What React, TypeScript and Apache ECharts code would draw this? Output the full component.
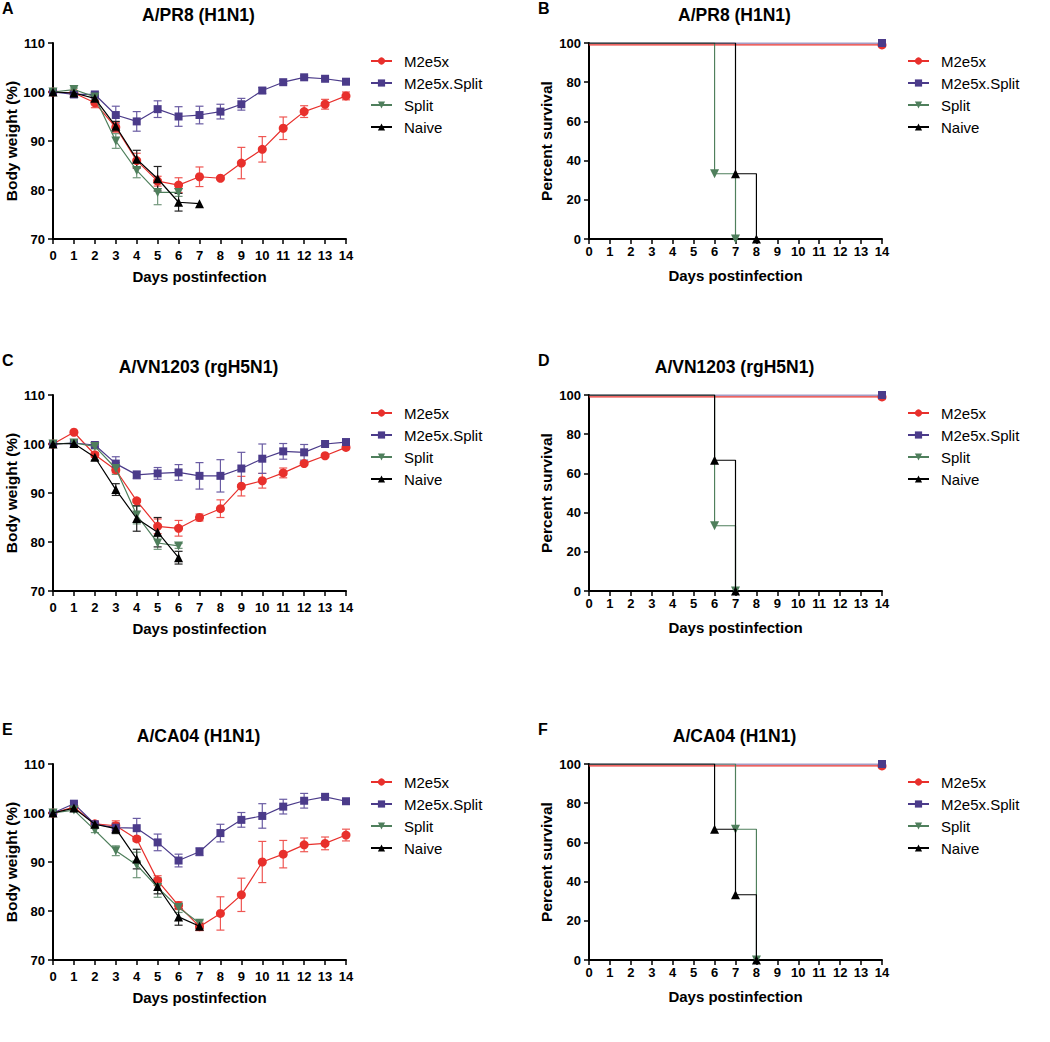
import React, { useEffect, useRef } from "react";
import * as echarts from "echarts";

// ---------- data ----------
const DAYS = [0, 1, 2, 3, 4, 5, 6, 7, 8, 9, 10, 11, 12, 13, 14];
const GROUPS = ["M2e5x", "M2e5x.Split", "Split", "Naive"];
const TITLES = ["A/PR8 (H1N1)", "A/VN1203 (rgH5N1)", "A/CA04 (H1N1)"];
const LETTERS = [["A", "B"], ["C", "D"], ["E", "F"]];
const WEIGHT_TICKS = { min: 70, max: 110, step: 10 };
const SURV_TICKS = { min: 0, max: 100, step: 20 };

// Panel A (body weight, A/PR8)
const A_M2E5X = [100, 99.8, 97.8, 92.8, 86.0, 81.8, 81.0, 82.7, 82.4, 85.5, 88.3, 92.6, 96.0, 97.5, 99.2];
const A_M2E5X_ERR = [0, 0.5, 1.0, 1.0, 1.5, 1.0, 1.5, 2.0, 0.3, 3.2, 2.6, 2.3, 1.2, 1.0, 0.8];
const A_COMBO = [100, 99.5, 99.5, 95.3, 94.0, 96.5, 95.0, 95.3, 96.0, 97.5, 100.3, 102.0, 103.0, 102.7, 102.1];
const A_COMBO_ERR = [0, 0.3, 0.5, 1.8, 2.0, 1.7, 2.0, 1.8, 1.5, 1.2, 0.6, 0.3, 0.3, 0.3, 0.3];
const A_SPLIT = [100, 100.5, 99.0, 90.0, 84.0, 79.5, 79.5];
const A_SPLIT_ERR = [0, 0.3, 0.5, 1.5, 1.5, 2.5, 0.8];
const A_NAIVE = [100, 99.8, 98.7, 93.0, 86.3, 82.3, 77.5, 77.2];
const A_NAIVE_ERR = [0, 0.3, 0.5, 1.0, 1.8, 2.5, 1.8, 0];

// Panel C (body weight, A/VN1203)
const C_M2E5X = [100, 102.4, 97.8, 94.7, 88.4, 83.2, 82.8, 85.0, 86.8, 91.4, 92.5, 94.1, 96.0, 97.6, 99.3];
const C_M2E5X_ERR = [0, 0.3, 0.5, 0.6, 0.3, 1.5, 1.6, 0.7, 1.8, 2.0, 1.5, 1.0, 0.3, 0.3, 0.3];
const C_COMBO = [100, 100.2, 99.8, 96.0, 93.7, 94.0, 94.2, 93.5, 93.5, 95.0, 97.0, 98.5, 98.3, 100.0, 100.4];
const C_COMBO_ERR = [0, 0.2, 0.4, 1.4, 0.8, 1.2, 1.6, 2.7, 3.3, 3.3, 3.0, 1.6, 1.6, 0.2, 0.3];
const C_SPLIT = [100, 100.2, 99.5, 95.0, 85.5, 79.8, 79.2];
const C_SPLIT_ERR = [0, 0.2, 0.5, 1.2, 1.8, 1.3, 0.5];
const C_NAIVE = [100, 100.1, 97.3, 90.7, 84.8, 82.0, 76.8];
const C_NAIVE_ERR = [0, 0.2, 0.6, 1.2, 2.6, 3.0, 1.3];

// Panel E (body weight, A/CA04)
const E_M2E5X = [100, 101.2, 97.8, 97.4, 94.7, 86.2, 81.1, 76.8, 79.5, 83.3, 90.0, 91.6, 93.5, 93.8, 95.5];
const E_M2E5X_ERR = [0, 0.3, 0.5, 1.0, 0.5, 1.0, 0.8, 0.8, 3.4, 3.4, 4.2, 2.8, 1.4, 1.3, 1.2];
const E_COMBO = [100, 101.9, 97.7, 97.0, 96.9, 94.0, 90.3, 92.1, 95.9, 98.6, 99.4, 101.3, 102.5, 103.3, 102.4];
const E_COMBO_ERR = [0, 0.3, 0.5, 1.0, 2.0, 1.7, 1.3, 0.8, 1.8, 1.5, 2.5, 1.5, 1.5, 0.3, 0.3];
const E_SPLIT = [100, 100.6, 96.5, 92.3, 89.4, 84.8, 80.7, 77.5];
const E_SPLIT_ERR = [0, 0.3, 0.5, 1.0, 2.6, 2.0, 1.0, 0.5];
const E_NAIVE = [100, 101.0, 97.7, 96.8, 90.6, 85.0, 78.8, 76.9];
const E_NAIVE_ERR = [0, 0.3, 0.5, 1.0, 2.0, 1.5, 1.7, 0.5];

// Survival panels (event days and percent surviving)
const B_M2E5X_DAYS = [0, 14];
const B_M2E5X_SURV = [99, 99];
const B_COMBO_DAYS = [0, 14];
const B_COMBO_SURV = [100, 100];
const B_SPLIT_DAYS = [0, 6, 7];
const B_SPLIT_SURV = [100, 33.3, 0];
const B_NAIVE_DAYS = [0, 7, 8];
const B_NAIVE_SURV = [100, 33.3, 0];

const D_M2E5X_DAYS = [0, 14];
const D_M2E5X_SURV = [99, 99];
const D_COMBO_DAYS = [0, 14];
const D_COMBO_SURV = [100, 100];
const D_SPLIT_DAYS = [0, 6, 7];
const D_SPLIT_SURV = [100, 33.3, 0];
const D_NAIVE_DAYS = [0, 6, 7];
const D_NAIVE_SURV = [100, 66.7, 0];

const F_M2E5X_DAYS = [0, 14];
const F_M2E5X_SURV = [99, 99];
const F_COMBO_DAYS = [0, 14];
const F_COMBO_SURV = [100, 100];
const F_SPLIT_DAYS = [0, 7, 8];
const F_SPLIT_SURV = [100, 66.7, 0];
const F_NAIVE_DAYS = [0, 6, 7, 8];
const F_NAIVE_SURV = [100, 66.7, 33.3, 0];

// ---------- styles ----------
const FONT = "'Liberation Sans', Arial, Helvetica, sans-serif";
const STYLE = [
  { color: "#e8302c", err: "#ef5753", symbol: "circle", size: 9, rotate: 0 },
  { color: "#4b3b8a", err: "#6a5ca3", symbol: "rect", size: 8, rotate: 0 },
  { color: "#4f7f5c", err: "#73987d", symbol: "triangle", size: 9, rotate: 180 },
  { color: "#000000", err: "#222222", symbol: "triangle", size: 9, rotate: 0 },
];
const ROW_TOPS = [43, 395, 764];
const COL_LEFTS = [53, 589];
const PLOT_W = 293;
const PLOT_H = 196;

function errRender(color: string) {
  return (params: any, api: any) => {
    const x = api.value(0);
    const y = api.value(1);
    const e = api.value(2);
    const hi = api.coord([x, y + e]);
    const lo = api.coord([x, y - e]);
    const w = 4;
    const style = { stroke: color, lineWidth: 1.2, fill: null };
    return {
      type: "group",
      children: [
        { type: "line", shape: { x1: hi[0], y1: hi[1], x2: lo[0], y2: lo[1] }, style },
        { type: "line", shape: { x1: hi[0] - w, y1: hi[1], x2: hi[0] + w, y2: hi[1] }, style },
        { type: "line", shape: { x1: lo[0] - w, y1: lo[1], x2: lo[0] + w, y2: lo[1] }, style },
      ],
    };
  };
}

function weightSeries(gi: number, sets: number[][][]) {
  const lines: any[] = [];
  const errs: any[] = [];
  sets.forEach(([vals, es], k) => {
    const st = STYLE[k];
    lines.push({
      type: "line",
      name: GROUPS[k],
      xAxisIndex: gi,
      yAxisIndex: gi,
      data: vals.map((v, i) => [DAYS[i], v]),
      symbol: st.symbol,
      symbolSize: st.size,
      symbolRotate: st.rotate,
      lineStyle: { color: st.color, width: 1.2 },
      itemStyle: { color: st.color },
      z: 3 + k,
    });
    errs.push({
      type: "custom",
      name: GROUPS[k] + " SEM",
      xAxisIndex: gi,
      yAxisIndex: gi,
      coordinateSystem: "cartesian2d",
      data: vals.map((v, i) => [DAYS[i], v, es[i]]).filter((d) => d[2] > 0),
      encode: { x: 0, y: 1 },
      renderItem: errRender(st.err),
      silent: true,
      z: 2,
    });
  });
  return [...errs, ...lines];
}

function survivalSeries(gi: number, sets: number[][][]) {
  return sets.map(([days, surv], k) => {
    const st = STYLE[k];
    return {
      type: "line",
      name: GROUPS[k],
      xAxisIndex: gi,
      yAxisIndex: gi,
      step: "end",
      data: days.map((d, i) => (i === 0 ? { value: [d, surv[i]], symbol: "none" } : { value: [d, surv[i]] })),
      symbol: st.symbol,
      symbolSize: st.size,
      symbolRotate: st.rotate,
      lineStyle: { color: st.color, width: 1.2 },
      itemStyle: { color: st.color },
      z: 3 + k,
    };
  });
}

function makeOption() {
  const grid: any[] = [];
  const xAxis: any[] = [];
  const yAxis: any[] = [];
  const legend: any[] = [];
  const graphic: any[] = [];
  for (let r = 0; r < 3; r++) {
    for (let c = 0; c < 2; c++) {
      const gi = r * 2 + c;
      const isWeight = c === 0;
      grid.push({ left: COL_LEFTS[c], top: ROW_TOPS[r], width: PLOT_W, height: PLOT_H, containLabel: false });
      xAxis.push({
        gridIndex: gi,
        type: "value",
        min: DAYS[0],
        max: DAYS[DAYS.length - 1],
        interval: 1,
        axisLine: { show: true, onZero: false, lineStyle: { color: "#000", width: 2 } },
        axisTick: { show: true, length: 5, lineStyle: { color: "#000", width: 1.5 } },
        axisLabel: { color: "#000", fontWeight: "bold", fontSize: 13, fontFamily: FONT, margin: isWeight ? 10 : 6 },
        splitLine: { show: false },
        name: "Days postinfection",
        nameLocation: "middle",
        nameGap: isWeight ? 30 : 29,
        nameTextStyle: { color: "#000", fontWeight: "bold", fontSize: 15, fontFamily: FONT },
      });
      const t = isWeight ? WEIGHT_TICKS : SURV_TICKS;
      yAxis.push({
        gridIndex: gi,
        type: "value",
        min: t.min,
        max: t.max,
        interval: t.step,
        axisLine: { show: true, onZero: false, lineStyle: { color: "#000", width: 2 } },
        axisTick: { show: true, length: 5, lineStyle: { color: "#000", width: 1.5 } },
        axisLabel: { color: "#000", fontWeight: "bold", fontSize: 13, fontFamily: FONT, margin: 8 },
        splitLine: { show: false },
        name: isWeight ? "Body weight (%)" : "Percent survival",
        nameLocation: "middle",
        nameRotate: 90,
        nameGap: isWeight ? 34 : 35,
        nameTextStyle: { color: "#000", fontWeight: "bold", fontSize: 15.5, fontFamily: FONT },
      });
      legend.push({
        data: GROUPS,
        orient: "vertical",
        left: c === 0 ? 365 : 902,
        top: ROW_TOPS[r] + 5,
        itemWidth: 21,
        itemHeight: 9,
        itemGap: 6,
        selectedMode: false,
        textStyle: { color: "#000", fontSize: 15, fontFamily: FONT, lineHeight: 16, padding: [0, 0, 0, 7] },
      });
      graphic.push({
        type: "text",
        x: COL_LEFTS[c] + PLOT_W / 2 - 1,
        y: ROW_TOPS[r] - 28,
        style: { text: TITLES[r], align: "center", verticalAlign: "middle", font: `bold 17.5px ${FONT}`, fill: "#000" },
      });
      graphic.push({
        type: "text",
        x: c === 0 ? 2 : 538,
        y: ROW_TOPS[r] - 35,
        style: { text: LETTERS[r][c], align: "left", verticalAlign: "middle", font: `bold 16px ${FONT}`, fill: "#000" },
      });
    }
  }

  const series = [
    ...weightSeries(0, [[A_M2E5X, A_M2E5X_ERR], [A_COMBO, A_COMBO_ERR], [A_SPLIT, A_SPLIT_ERR], [A_NAIVE, A_NAIVE_ERR]]),
    ...survivalSeries(1, [[B_M2E5X_DAYS, B_M2E5X_SURV], [B_COMBO_DAYS, B_COMBO_SURV], [B_SPLIT_DAYS, B_SPLIT_SURV], [B_NAIVE_DAYS, B_NAIVE_SURV]]),
    ...weightSeries(2, [[C_M2E5X, C_M2E5X_ERR], [C_COMBO, C_COMBO_ERR], [C_SPLIT, C_SPLIT_ERR], [C_NAIVE, C_NAIVE_ERR]]),
    ...survivalSeries(3, [[D_M2E5X_DAYS, D_M2E5X_SURV], [D_COMBO_DAYS, D_COMBO_SURV], [D_SPLIT_DAYS, D_SPLIT_SURV], [D_NAIVE_DAYS, D_NAIVE_SURV]]),
    ...weightSeries(4, [[E_M2E5X, E_M2E5X_ERR], [E_COMBO, E_COMBO_ERR], [E_SPLIT, E_SPLIT_ERR], [E_NAIVE, E_NAIVE_ERR]]),
    ...survivalSeries(5, [[F_M2E5X_DAYS, F_M2E5X_SURV], [F_COMBO_DAYS, F_COMBO_SURV], [F_SPLIT_DAYS, F_SPLIT_SURV], [F_NAIVE_DAYS, F_NAIVE_SURV]]),
  ];

  return {
    animation: false,
    backgroundColor: "#ffffff",
    textStyle: { fontFamily: FONT },
    grid,
    xAxis,
    yAxis,
    legend,
    graphic,
    series,
  };
}

export default function App() {
  const ref = useRef<HTMLDivElement>(null);
  useEffect(() => {
    if (!ref.current) return;
    const chart = echarts.init(ref.current, null, { renderer: "svg" });
    chart.setOption(makeOption() as any);
    return () => chart.dispose();
  }, []);
  return (
    <div
      ref={ref}
      style={{ position: "absolute", left: 0, top: 0, width: 1050, height: 1042, background: "#fff" }}
    />
  );
}
